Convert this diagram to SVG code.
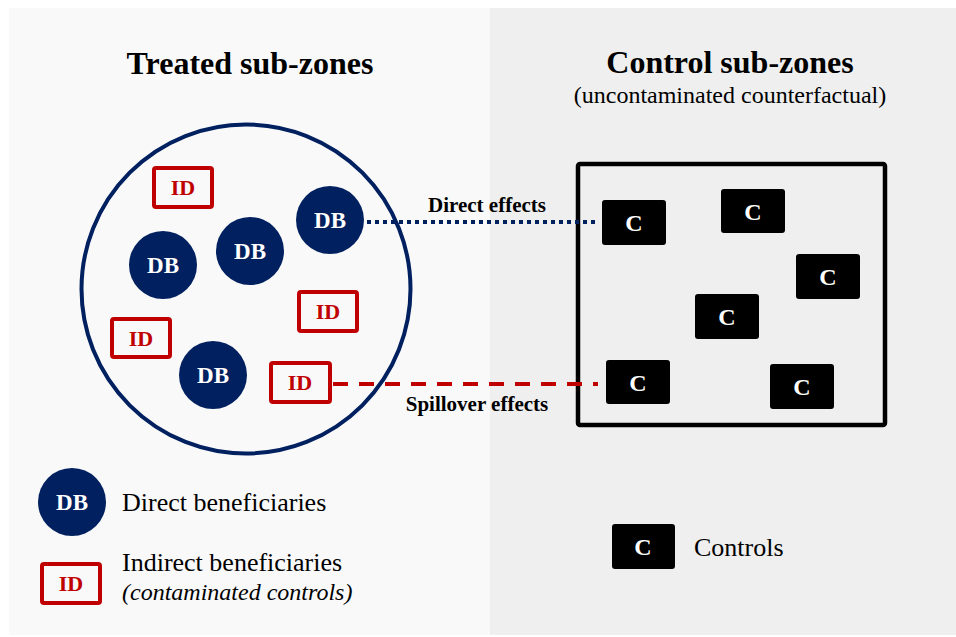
<svg xmlns="http://www.w3.org/2000/svg" width="956" height="637" viewBox="0 0 956 637">
<defs>
<style>
text{font-family:"Liberation Serif","Times New Roman",serif;}
.title{font-size:32px;font-weight:bold;fill:#000;text-anchor:middle;}
.sub{font-size:24px;fill:#000;text-anchor:middle;}
.db circle{fill:#002060;}
.db text{font-size:23px;font-weight:bold;fill:#fff;text-anchor:middle;}
.id rect{fill:#f9f9f9;stroke:#c00000;stroke-width:4;}
.id text{font-size:22px;font-weight:bold;fill:#c00000;text-anchor:middle;}
.c rect{fill:#000;}
.c text{font-size:24px;font-weight:bold;fill:#fff;text-anchor:middle;}
.lbl{font-size:21px;font-weight:bold;fill:#000;text-anchor:middle;}
.leg{font-size:26px;fill:#000;}
</style>
</defs>
<rect x="0" y="0" width="956" height="637" fill="#fff"/>
<rect x="9" y="8" width="481" height="627" fill="#f9f9f9"/>
<rect x="490" y="8" width="466" height="627" fill="#efefef"/>

<text class="title" x="250" y="74">Treated sub-zones</text>
<text class="title" x="730" y="73">Control sub-zones</text>
<text class="sub" x="730" y="103">(uncontaminated counterfactual)</text>

<g id="treated-zone"><circle cx="246" cy="289" r="164.5" fill="none" stroke="#002060" stroke-width="4"/></g>
<g id="control-zone"><rect x="578" y="164" width="307" height="261" fill="none" stroke="#000" stroke-width="4.5" rx="2"/></g>

<g id="connectors">
<line x1="367" y1="222" x2="598" y2="222" stroke="#002060" stroke-width="4" stroke-dasharray="4 4"/>
<line x1="333" y1="384" x2="598" y2="384" stroke="#c00000" stroke-width="4" stroke-dasharray="15 11"/>
<text class="lbl" x="487" y="212">Direct effects</text>
<text class="lbl" x="477" y="411">Spillover effects</text>
</g>

<g id="db1" class="db"><circle cx="330" cy="220" r="34"/><text x="330" y="228">DB</text></g>
<g id="db2" class="db"><circle cx="250" cy="251" r="34"/><text x="250" y="259">DB</text></g>
<g id="db3" class="db"><circle cx="163" cy="265" r="34"/><text x="163" y="273">DB</text></g>
<g id="db4" class="db"><circle cx="213" cy="375" r="34"/><text x="213" y="383">DB</text></g>

<g id="id1" class="id"><rect x="154" y="168" width="58" height="39" rx="2"/><text x="183" y="195">ID</text></g>
<g id="id2" class="id"><rect x="299" y="292" width="58" height="39" rx="2"/><text x="328" y="319">ID</text></g>
<g id="id3" class="id"><rect x="112" y="319" width="58" height="38" rx="2"/><text x="141" y="346">ID</text></g>
<g id="id4" class="id"><rect x="271" y="363" width="59" height="39" rx="2"/><text x="300" y="390">ID</text></g>

<g id="c1" class="c"><rect x="602" y="200" width="64" height="45" rx="3"/><text x="634" y="231">C</text></g>
<g id="c2" class="c"><rect x="721" y="189" width="64" height="44" rx="3"/><text x="753" y="220">C</text></g>
<g id="c3" class="c"><rect x="796" y="254" width="64" height="45" rx="3"/><text x="828" y="285">C</text></g>
<g id="c4" class="c"><rect x="695" y="294" width="64" height="45" rx="3"/><text x="727" y="325">C</text></g>
<g id="c5" class="c"><rect x="606" y="360" width="64" height="44" rx="3"/><text x="638" y="391">C</text></g>
<g id="c6" class="c"><rect x="770" y="364" width="64" height="45" rx="3"/><text x="802" y="395">C</text></g>

<g id="legend-db" class="db"><circle cx="72" cy="502" r="34"/><text x="72" y="510">DB</text></g>
<text class="leg" x="122" y="511">Direct beneficiaries</text>
<g id="legend-id" class="id"><rect x="42" y="564" width="58" height="39" rx="2"/><text x="71" y="591">ID</text></g>
<text class="leg" x="122" y="571">Indirect beneficiaries</text>
<text x="122" y="600" font-size="24" font-style="italic" fill="#000">(contaminated controls)</text>
<g id="legend-c" class="c"><rect x="612" y="524" width="63" height="45" rx="3"/><text x="643" y="555">C</text></g>
<text class="leg" x="694" y="556">Controls</text>
</svg>
